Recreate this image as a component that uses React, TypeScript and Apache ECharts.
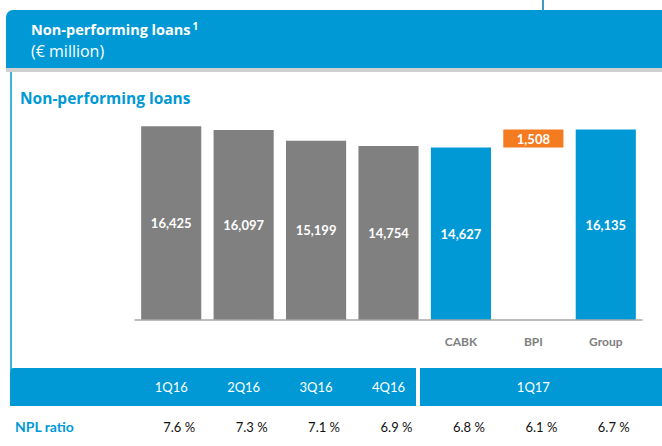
import React, { useEffect, useRef } from "react";
import * as echarts from "echarts";

const categories = ["1Q16", "2Q16", "3Q16", "4Q16", "CABK", "BPI", "Group"];
const axisLabels = ["", "", "", "", "CABK", "BPI", "Group"];
const periodLabels = ["1Q16", "2Q16", "3Q16", "4Q16", "", "1Q17", ""];
const nplValues = [16425, 16097, 15199, 14754, 14627, 1508, 16135];
const baseValues = [0, 0, 0, 0, 0, 14627, 0];
const nplRatio = ["7.6 %", "7.3 %", "7.1 %", "6.9 %", "6.8 %", "6.1 %", "6.7 %"];
const barColors = ["#808080", "#808080", "#808080", "#808080", "#0099D6", "#F47B20", "#0099D6"];

const BLUE = "#0099D6";
const FONT = "Lato, 'Open Sans', sans-serif";
const HFONT = "'Open Sans', Lato, sans-serif";

export default function App() {
  const ref = useRef<HTMLDivElement>(null);
  useEffect(() => {
    if (!ref.current) return;
    const chart = echarts.init(ref.current, undefined, { renderer: "svg" });
    const fmt = (v: number) => v.toLocaleString("en-US");
    chart.setOption({
      animation: false,
      textStyle: { fontFamily: FONT },
      grid: { left: 135, right: 20, top: 84, bottom: 126 },
      xAxis: [
        {
          type: "category",
          data: axisLabels,
          z: 10,
          axisLine: { lineStyle: { color: "#A6A6A6", width: 1.5 } },
          axisTick: { show: false },
          axisLabel: { color: "#808080", fontWeight: "bold", fontSize: 12, margin: 15, fontFamily: FONT },
        },
        {
          type: "category",
          data: periodLabels,
          position: "bottom",
          offset: 60,
          z: 10,
          axisLine: { show: false },
          axisTick: { show: false },
          axisLabel: { color: "#ffffff", fontSize: 13, margin: 0, fontFamily: FONT, interval: 0 },
        },
        {
          type: "category",
          data: nplRatio,
          position: "bottom",
          offset: 100,
          z: 10,
          axisLine: { show: false },
          axisTick: { show: false },
          axisLabel: { color: "#111111", fontSize: 13, margin: 0, fontFamily: FONT, interval: 0, padding: [0, 0, 0, 16] },
        },
      ],
      yAxis: { type: "value", min: 0, max: 20000, show: false },
      series: [
        {
          type: "bar",
          stack: "a",
          data: baseValues,
          itemStyle: { color: "transparent" },
          barCategoryGap: "17%",
          silent: true,
        },
        {
          type: "bar",
          stack: "a",
          barCategoryGap: "17%",
          data: nplValues.map((v, i) => ({ value: v, itemStyle: { color: barColors[i] } })),
          label: {
            show: true,
            position: "inside",
            color: "#ffffff",
            fontWeight: "bold",
            fontSize: 13,
            fontFamily: FONT,
            formatter: (p: any) => fmt(p.value),
          },
        },
      ],
      graphic: [
        { type: "line", z: 1, shape: { x1: 543, y1: 0, x2: 543, y2: 11 }, style: { stroke: "#0077B0", lineWidth: 1.5 } },
        { type: "rect", z: 1, shape: { x: 6, y: 68, width: 656, height: 4 }, style: { fill: "#D0D0D0" } },
        { type: "rect", z: 2, shape: { x: 6, y: 10, width: 660, height: 58, r: [7, 0, 0, 0] }, style: { fill: BLUE } },
        {
          type: "text",
          z: 3,
          left: 31,
          top: 21,
          style: {
            text: "{a|Non-performing loans}{s|1}",
            rich: {
              a: { fill: "#ffffff", fontSize: 14.5, fontWeight: "bold", fontFamily: HFONT },
              s: { fill: "#ffffff", fontSize: 10, fontWeight: "bold", fontFamily: HFONT, verticalAlign: "top", padding: [0, 0, 6, 2] },
            },
          },
        },
        { type: "text", z: 3, left: 31, top: 43, style: { text: "(€ million)", fill: "#ffffff", fontSize: 16, fontFamily: HFONT } },
        { type: "line", z: 1, shape: { x1: 11, y1: 72, x2: 11, y2: 370 }, style: { stroke: BLUE, lineWidth: 1.5 } },
        { type: "text", z: 3, left: 20, top: 90, style: { text: "Non-performing loans", fill: BLUE, fontSize: 15.5, fontWeight: "bold", fontFamily: HFONT } },
        { type: "rect", z: 1, shape: { x: 10, y: 368, width: 406, height: 38, r: [4, 0, 0, 0] }, style: { fill: BLUE } },
        { type: "rect", z: 1, shape: { x: 420, y: 368, width: 242, height: 38 }, style: { fill: BLUE } },
        { type: "text", z: 3, left: 15, top: 419, style: { text: "NPL ratio", fill: BLUE, fontSize: 14, fontWeight: "bold", fontFamily: FONT } },
      ],
    });
    return () => chart.dispose();
  }, []);
  return <div ref={ref} style={{ position: "absolute", left: 0, top: 0, width: 662, height: 446 }} />;
}
